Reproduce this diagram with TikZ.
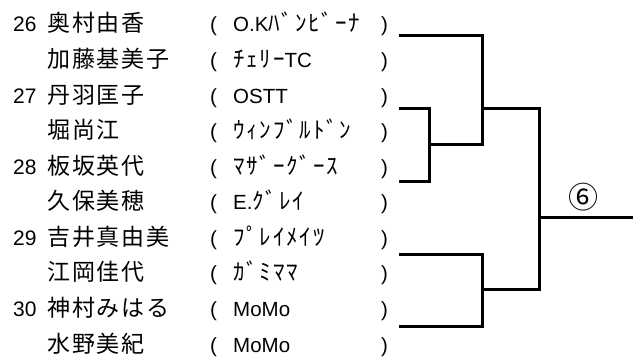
\documentclass[tikz,border=0pt]{standalone}
\usepackage{fontspec}
\setmainfont{Liberation Sans}
\newfontfamily\jp[LetterSpace=8]{Noto Sans CJK JP}
\newfontfamily\jpk{Noto Sans CJK JP}
\newcommand\kk[1]{{\fontsize{23}{23}\selectfont\jp #1}}
\begin{document}
\begin{tikzpicture}[x=1pt,y=-1pt,
  txt/.style={anchor=base west,inner sep=0pt,font=\fontsize{20.5}{20.5}\selectfont},
  br/.style={line width=3pt,line cap=rect},
  num/.style={txt,font=\fontsize{21}{21}\selectfont},
  nm/.style={txt,font=\fontsize{23}{23}\selectfont\jp},
  tm/.style={txt}]
\useasboundingbox (0,0) rectangle (633,361);
% rows
\def\yA{32}\def\yB{67.6}\def\yC{103.1}\def\yD{138.7}\def\yE{174.2}
\def\yF{209.8}\def\yG{245.3}\def\yH{280.9}\def\yI{316.4}\def\yJ{352}
\node[num] (n26) at (13,\yA) {26};
\node[num] (n27) at (13,\yC) {27};
\node[num] (n28) at (13,\yE) {28};
\node[num] (n29) at (13,\yG) {29};
\node[num] (n30) at (13,\yI) {30};
\node[nm] (p1) at (47,\yA) {奥村由香};
\node[nm] (p2) at (47,\yB) {加藤基美子};
\node[nm] (p3) at (47,\yC) {丹羽匡子};
\node[nm] (p4) at (47,\yD) {堀尚江};
\node[nm] (p5) at (47,\yE) {板坂英代};
\node[nm] (p6) at (47,\yF) {久保美穂};
\node[nm] (p7) at (47,\yG) {吉井真由美};
\node[nm] (p8) at (47,\yH) {江岡佳代};
\node[nm] (p9) at (47,\yI) {神村みはる};
\node[nm] (p10) at (47,\yJ) {水野美紀};
\foreach \y [count=\i] in {\yA,\yB,\yC,\yD,\yE,\yF,\yG,\yH,\yI,\yJ}{
  \node[txt] (lp\i) at (210,\y) {(};
  \node[txt] (rp\i) at (381,\y) {)};
}
\node[tm] (t1) at (233,\yA) {O.K\kk{ﾊﾞﾝﾋﾞｰﾅ}};
\node[tm] (t2) at (233,\yB) {\kk{ﾁｪﾘｰ}TC};
\node[tm] (t3) at (233,\yC) {OSTT};
\node[tm] (t4) at (233,\yD) {\kk{ｳｨﾝﾌﾞﾙﾄﾞﾝ}};
\node[tm] (t5) at (233,\yE) {\kk{ﾏｻﾞｰｸﾞｰｽ}};
\node[tm] (t6) at (233,\yF) {E.\kk{ｸﾞﾚｲ}};
\node[tm] (t7) at (233,\yG) {\kk{ﾌﾟﾚｲﾒｲﾂ}};
\node[tm] (t8) at (233,\yH) {\kk{ｶﾞﾐﾏﾏ}};
\node[tm] (t9) at (233,\yI) {MoMo};
\node[tm] (t10) at (233,\yJ) {MoMo};
% bracket coordinates
\coordinate (e26) at (400,36);
\coordinate (e27) at (400,109);
\coordinate (e28) at (400,182);
\coordinate (e29) at (400,254);
\coordinate (e30) at (400,326);
\coordinate (m2728) at (429,145);
\coordinate (m26) at (482,109);
\coordinate (m2930) at (482,289);
\coordinate (fin) at (539,217);
\coordinate (out) at (633,217);
\draw[br] (e27) -| (m2728) |- (e28);
\draw[br] (m2728) -- (m2728 -| m26);
\draw[br] (e26) -| (m26) |- (m2728);
\draw[br] (m26) -| (fin);
\draw[br] (e29) -| (m2930) |- (e30);
\draw[br] (m2930) -| (fin);
\draw[br] (fin) -- (out);
\node[inner sep=0pt,font=\fontsize{30}{30}\selectfont\jpk] (r6) at (583,197) {⑥};
\end{tikzpicture}
\end{document}
